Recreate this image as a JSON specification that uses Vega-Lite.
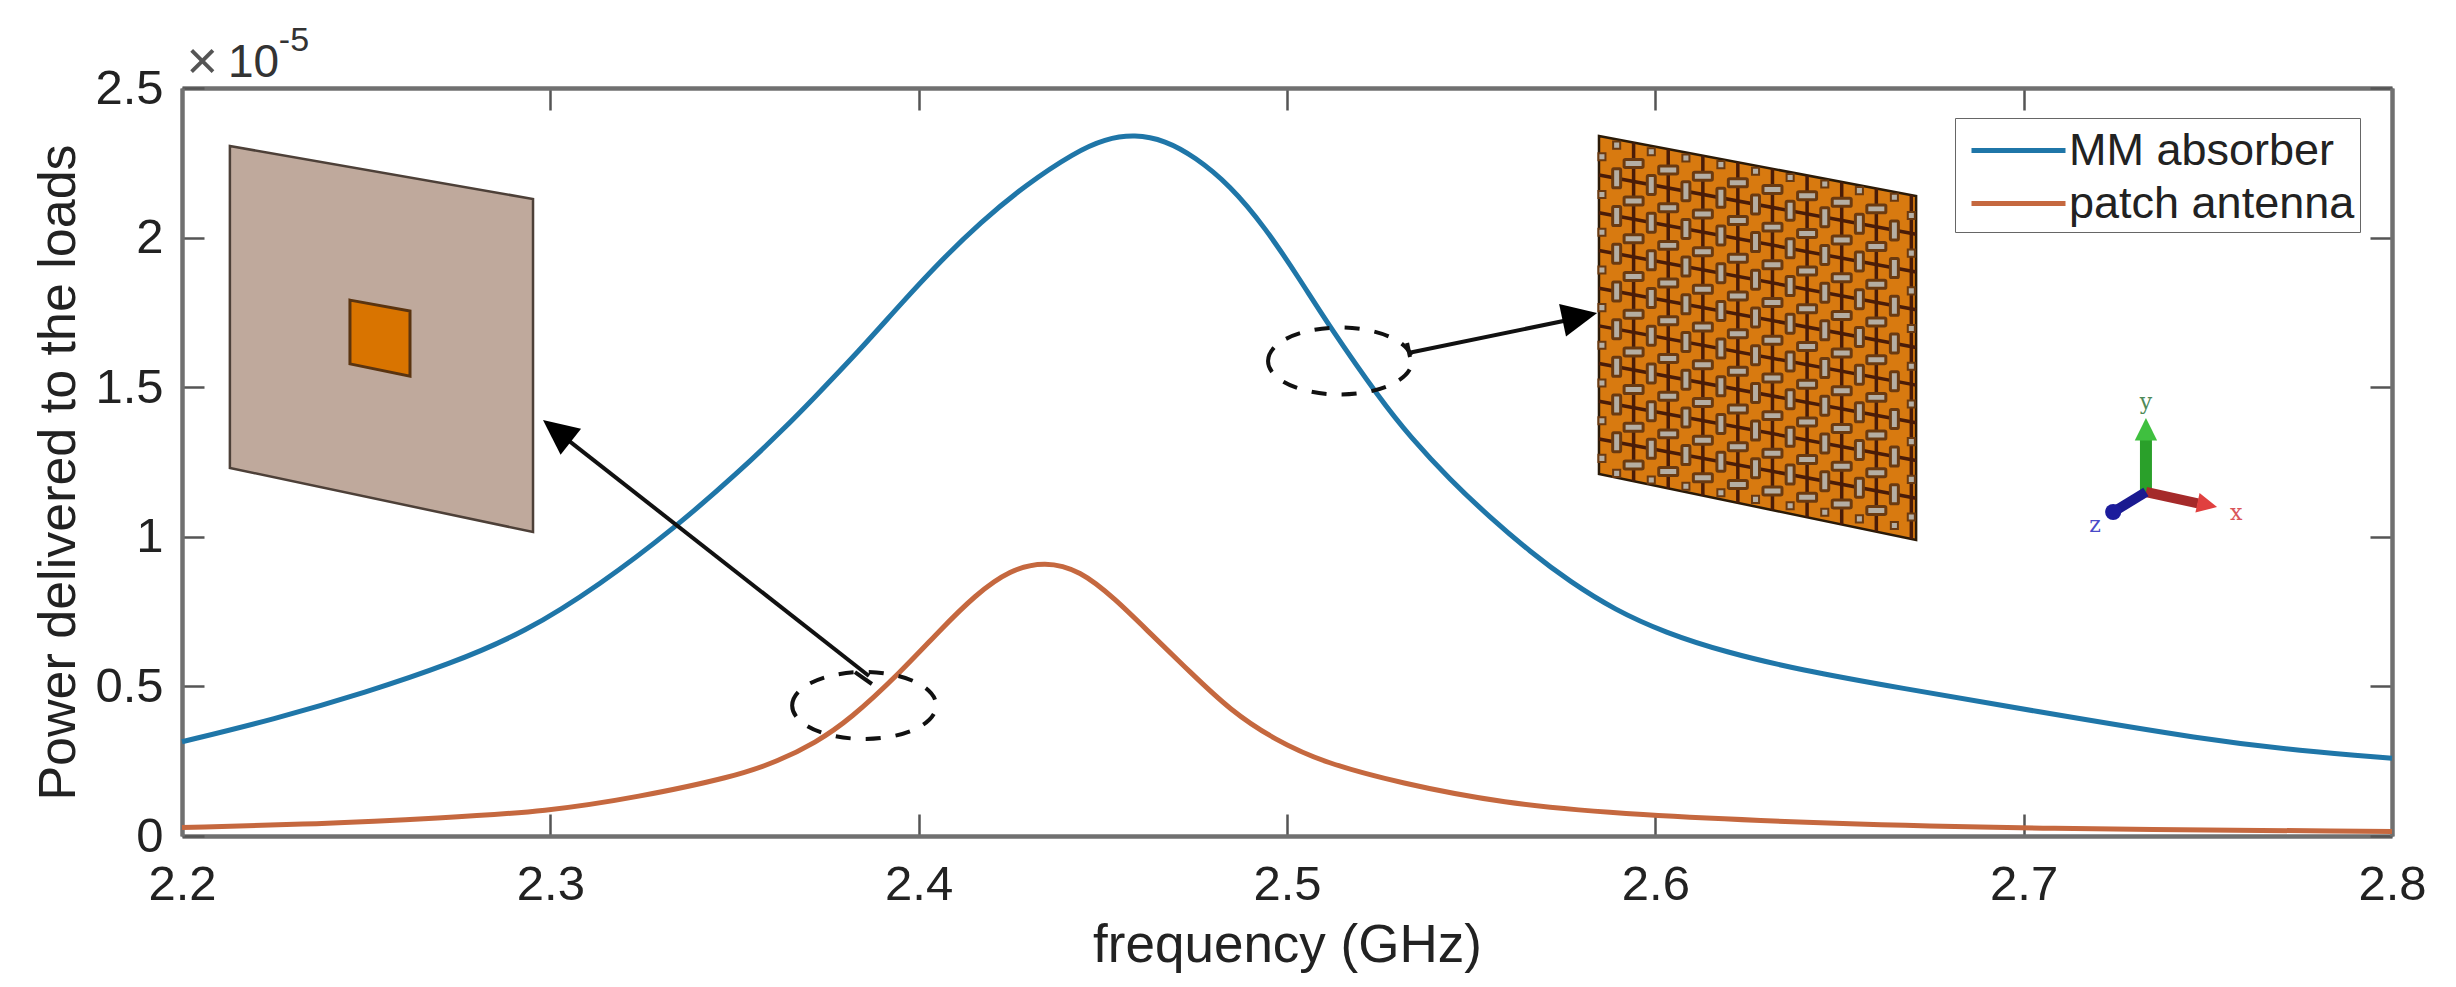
{"$schema":"https://vega.github.io/schema/vega-lite/v6.json","width":2210,"height":748,"autosize":"none","padding":{"left":182,"top":88,"right":64,"bottom":151},"background":"white","config":{"view":{"stroke":null},"font":"Liberation Sans"},
"datasets":{
"curves":[
{"x":2.2,"y":0.315,"series":"MM absorber"},{"x":2.225,"y":0.39,"series":"MM absorber"},{"x":2.25,"y":0.48,"series":"MM absorber"},{"x":2.2728,"y":0.575,"series":"MM absorber"},{"x":2.2931,"y":0.68,"series":"MM absorber"},{"x":2.3135,"y":0.84,"series":"MM absorber"},{"x":2.3338,"y":1.03,"series":"MM absorber"},{"x":2.3515,"y":1.22,"series":"MM absorber"},{"x":2.3637,"y":1.365,"series":"MM absorber"},{"x":2.3705,"y":1.45,"series":"MM absorber"},{"x":2.3841,"y":1.625,"series":"MM absorber"},{"x":2.3949,"y":1.775,"series":"MM absorber"},{"x":2.4058,"y":1.92,"series":"MM absorber"},{"x":2.4167,"y":2.05,"series":"MM absorber"},{"x":2.4289,"y":2.175,"series":"MM absorber"},{"x":2.4424,"y":2.285,"series":"MM absorber"},{"x":2.4506,"y":2.33,"series":"MM absorber"},{"x":2.4587,"y":2.345,"series":"MM absorber"},{"x":2.4669,"y":2.325,"series":"MM absorber"},{"x":2.475,"y":2.27,"series":"MM absorber"},{"x":2.4845,"y":2.175,"series":"MM absorber"},{"x":2.494,"y":2.035,"series":"MM absorber"},{"x":2.5035,"y":1.86,"series":"MM absorber"},{"x":2.5117,"y":1.7,"series":"MM absorber"},{"x":2.5253,"y":1.46,"series":"MM absorber"},{"x":2.5334,"y":1.335,"series":"MM absorber"},{"x":2.5443,"y":1.19,"series":"MM absorber"},{"x":2.5551,"y":1.065,"series":"MM absorber"},{"x":2.566,"y":0.95,"series":"MM absorber"},{"x":2.5768,"y":0.85,"series":"MM absorber"},{"x":2.5891,"y":0.755,"series":"MM absorber"},{"x":2.6026,"y":0.68,"series":"MM absorber"},{"x":2.6189,"y":0.615,"series":"MM absorber"},{"x":2.6393,"y":0.555,"series":"MM absorber"},{"x":2.6664,"y":0.495,"series":"MM absorber"},{"x":2.7017,"y":0.42,"series":"MM absorber"},{"x":2.75,"y":0.32,"series":"MM absorber"},{"x":2.775,"y":0.285,"series":"MM absorber"},{"x":2.8,"y":0.26,"series":"MM absorber"},
{"x":2.2,"y":0.028,"series":"patch antenna"},{"x":2.2372,"y":0.04,"series":"patch antenna"},{"x":2.27,"y":0.06,"series":"patch antenna"},{"x":2.2994,"y":0.082,"series":"patch antenna"},{"x":2.3238,"y":0.13,"series":"patch antenna"},{"x":2.3496,"y":0.197,"series":"patch antenna"},{"x":2.3619,"y":0.25,"series":"patch antenna"},{"x":2.3719,"y":0.311,"series":"patch antenna"},{"x":2.3814,"y":0.39,"series":"patch antenna"},{"x":2.3949,"y":0.545,"series":"patch antenna"},{"x":2.4058,"y":0.688,"series":"patch antenna"},{"x":2.4153,"y":0.805,"series":"patch antenna"},{"x":2.4248,"y":0.89,"series":"patch antenna"},{"x":2.4343,"y":0.918,"series":"patch antenna"},{"x":2.4438,"y":0.888,"series":"patch antenna"},{"x":2.4533,"y":0.793,"series":"patch antenna"},{"x":2.4628,"y":0.678,"series":"patch antenna"},{"x":2.4737,"y":0.548,"series":"patch antenna"},{"x":2.4845,"y":0.421,"series":"patch antenna"},{"x":2.4967,"y":0.321,"series":"patch antenna"},{"x":2.5103,"y":0.244,"series":"patch antenna"},{"x":2.5307,"y":0.177,"series":"patch antenna"},{"x":2.5578,"y":0.11,"series":"patch antenna"},{"x":2.5931,"y":0.07,"series":"patch antenna"},{"x":2.65,"y":0.04,"series":"patch antenna"},{"x":2.7,"y":0.025,"series":"patch antenna"},{"x":2.8,"y":0.015,"series":"patch antenna"}],
"vPills":[
{"x":2.5895,"y":2.198},{"x":2.5895,"y":2.072},{"x":2.5895,"y":1.946},{"x":2.5895,"y":1.82},{"x":2.5895,"y":1.694},{"x":2.5895,"y":1.568},{"x":2.5895,"y":1.442},{"x":2.5895,"y":1.316},
{"x":2.5989,"y":2.176},{"x":2.5989,"y":2.05},{"x":2.5989,"y":1.924},{"x":2.5989,"y":1.798},{"x":2.5989,"y":1.672},{"x":2.5989,"y":1.546},{"x":2.5989,"y":1.42},{"x":2.5989,"y":1.294},
{"x":2.6083,"y":2.155},{"x":2.6083,"y":2.029},{"x":2.6083,"y":1.903},{"x":2.6083,"y":1.777},{"x":2.6083,"y":1.651},{"x":2.6083,"y":1.525},{"x":2.6083,"y":1.399},{"x":2.6083,"y":1.273},
{"x":2.6178,"y":2.133},{"x":2.6178,"y":2.007},{"x":2.6178,"y":1.881},{"x":2.6178,"y":1.755},{"x":2.6178,"y":1.629},{"x":2.6178,"y":1.503},{"x":2.6178,"y":1.377},{"x":2.6178,"y":1.251},
{"x":2.6272,"y":2.111},{"x":2.6272,"y":1.985},{"x":2.6272,"y":1.859},{"x":2.6272,"y":1.733},{"x":2.6272,"y":1.607},{"x":2.6272,"y":1.481},{"x":2.6272,"y":1.355},{"x":2.6272,"y":1.229},
{"x":2.6366,"y":2.09},{"x":2.6366,"y":1.964},{"x":2.6366,"y":1.838},{"x":2.6366,"y":1.712},{"x":2.6366,"y":1.586},{"x":2.6366,"y":1.46},{"x":2.6366,"y":1.334},{"x":2.6366,"y":1.208},
{"x":2.646,"y":2.068},{"x":2.646,"y":1.942},{"x":2.646,"y":1.816},{"x":2.646,"y":1.69},{"x":2.646,"y":1.564},{"x":2.646,"y":1.438},{"x":2.646,"y":1.312},{"x":2.646,"y":1.186},
{"x":2.6554,"y":2.046},{"x":2.6554,"y":1.92},{"x":2.6554,"y":1.794},{"x":2.6554,"y":1.668},{"x":2.6554,"y":1.542},{"x":2.6554,"y":1.416},{"x":2.6554,"y":1.29},{"x":2.6554,"y":1.164},
{"x":2.6649,"y":2.024},{"x":2.6649,"y":1.898},{"x":2.6649,"y":1.772},{"x":2.6649,"y":1.646},{"x":2.6649,"y":1.52},{"x":2.6649,"y":1.394},{"x":2.6649,"y":1.268},{"x":2.6649,"y":1.142}],
"hPills":[
{"x":2.5941,"y":2.248},{"x":2.5941,"y":2.122},{"x":2.5941,"y":1.996},{"x":2.5941,"y":1.87},{"x":2.5941,"y":1.744},{"x":2.5941,"y":1.618},{"x":2.5941,"y":1.492},{"x":2.5941,"y":1.366},{"x":2.5941,"y":1.24},
{"x":2.6035,"y":2.226},{"x":2.6035,"y":2.1},{"x":2.6035,"y":1.974},{"x":2.6035,"y":1.848},{"x":2.6035,"y":1.722},{"x":2.6035,"y":1.596},{"x":2.6035,"y":1.47},{"x":2.6035,"y":1.344},{"x":2.6035,"y":1.218},
{"x":2.6129,"y":2.205},{"x":2.6129,"y":2.079},{"x":2.6129,"y":1.953},{"x":2.6129,"y":1.827},{"x":2.6129,"y":1.701},{"x":2.6129,"y":1.575},{"x":2.6129,"y":1.449},{"x":2.6129,"y":1.323},{"x":2.6129,"y":1.197},
{"x":2.6224,"y":2.183},{"x":2.6224,"y":2.057},{"x":2.6224,"y":1.931},{"x":2.6224,"y":1.805},{"x":2.6224,"y":1.679},{"x":2.6224,"y":1.553},{"x":2.6224,"y":1.427},{"x":2.6224,"y":1.301},{"x":2.6224,"y":1.175},
{"x":2.6318,"y":2.161},{"x":2.6318,"y":2.035},{"x":2.6318,"y":1.909},{"x":2.6318,"y":1.783},{"x":2.6318,"y":1.657},{"x":2.6318,"y":1.531},{"x":2.6318,"y":1.405},{"x":2.6318,"y":1.279},{"x":2.6318,"y":1.153},
{"x":2.6412,"y":2.14},{"x":2.6412,"y":2.014},{"x":2.6412,"y":1.888},{"x":2.6412,"y":1.762},{"x":2.6412,"y":1.636},{"x":2.6412,"y":1.51},{"x":2.6412,"y":1.384},{"x":2.6412,"y":1.258},{"x":2.6412,"y":1.132},
{"x":2.6506,"y":2.118},{"x":2.6506,"y":1.992},{"x":2.6506,"y":1.866},{"x":2.6506,"y":1.74},{"x":2.6506,"y":1.614},{"x":2.6506,"y":1.488},{"x":2.6506,"y":1.362},{"x":2.6506,"y":1.236},{"x":2.6506,"y":1.11},
{"x":2.66,"y":2.096},{"x":2.66,"y":1.97},{"x":2.66,"y":1.844},{"x":2.66,"y":1.718},{"x":2.66,"y":1.592},{"x":2.66,"y":1.466},{"x":2.66,"y":1.34},{"x":2.66,"y":1.214},{"x":2.66,"y":1.088}],
"smallPills":[
{"x":2.5895,"y":2.309},{"x":2.5989,"y":2.287},{"x":2.6083,"y":2.266},{"x":2.6178,"y":2.244},{"x":2.6272,"y":2.222},{"x":2.6366,"y":2.201},{"x":2.646,"y":2.179},{"x":2.6554,"y":2.157},{"x":2.6649,"y":2.135},
{"x":2.5855,"y":2.27},{"x":2.5855,"y":2.144},{"x":2.5855,"y":2.018},{"x":2.5855,"y":1.892},{"x":2.5855,"y":1.766},{"x":2.5855,"y":1.64},{"x":2.5855,"y":1.514},{"x":2.5855,"y":1.388},{"x":2.5855,"y":1.262},
{"x":2.6695,"y":2.074},{"x":2.6695,"y":1.948},{"x":2.6695,"y":1.822},{"x":2.6695,"y":1.696},{"x":2.6695,"y":1.57},{"x":2.6695,"y":1.444},{"x":2.6695,"y":1.318},{"x":2.6695,"y":1.192},{"x":2.6695,"y":1.066},
{"x":2.5895,"y":1.212},{"x":2.5989,"y":1.19},{"x":2.6083,"y":1.169},{"x":2.6178,"y":1.147},{"x":2.6272,"y":1.125},{"x":2.6366,"y":1.104},{"x":2.646,"y":1.082},{"x":2.6554,"y":1.06},{"x":2.6649,"y":1.038}],
"lattice":[
{"x":2.5941,"x2":2.5941,"y":2.3176,"y2":1.1858},{"x":2.6035,"x2":2.6035,"y":2.2957,"y2":1.1617},{"x":2.6129,"x2":2.6129,"y":2.2738,"y2":1.1376},{"x":2.6224,"x2":2.6224,"y":2.2517,"y2":1.1133},{"x":2.6318,"x2":2.6318,"y":2.2298,"y2":1.0892},{"x":2.6412,"x2":2.6412,"y":2.2079,"y2":1.0651},{"x":2.6506,"x2":2.6506,"y":2.186,"y2":1.0411},{"x":2.66,"x2":2.66,"y":2.1641,"y2":1.017},{"x":2.6695,"x2":2.6695,"y":2.142,"y2":0.9926},
{"x":2.5847,"x2":2.6708,"y":2.209,"y2":2.011},{"x":2.5847,"x2":2.6708,"y":2.083,"y2":1.885},{"x":2.5847,"x2":2.6708,"y":1.957,"y2":1.759},{"x":2.5847,"x2":2.6708,"y":1.831,"y2":1.633},{"x":2.5847,"x2":2.6708,"y":1.705,"y2":1.507},{"x":2.5847,"x2":2.6708,"y":1.579,"y2":1.381},{"x":2.5847,"x2":2.6708,"y":1.453,"y2":1.255},{"x":2.5847,"x2":2.6708,"y":1.327,"y2":1.129}]
},
"encoding":{
"x":{"field":"x","type":"quantitative","scale":{"domain":[2.2,2.8],"nice":false,"zero":false},"axis":null},
"y":{"field":"y","type":"quantitative","scale":{"domain":[0,2.5],"nice":false,"zero":false},"axis":null}},
"resolve":{"axis":{"x":"independent","y":"independent"}},
"layer":[
{"data":{"values":[{"x":2.213,"y":2.306,"y2":1.23},{"x":2.2953,"y":2.129,"y2":1.016}]},"mark":{"type":"area","fill":"#bfa99c","stroke":"#4d4038","strokeWidth":2.5},"encoding":{"y2":{"field":"y2"}}},
{"data":{"values":[{"x":2.2456,"y":1.791,"y2":1.578},{"x":2.2619,"y":1.755,"y2":1.537}]},"mark":{"type":"area","fill":"#d97400","stroke":"#5a3410","strokeWidth":3},"encoding":{"y2":{"field":"y2"}}},
{"data":{"values":[{"x":2.5847,"y":2.3395,"y2":1.2099},{"x":2.6708,"y":2.139,"y2":0.9893}]},"mark":{"type":"area","fill":"#d87a10","stroke":"#2a1a08","strokeWidth":2.5},"encoding":{"y2":{"field":"y2"}}},
{"data":{"name":"lattice"},"mark":{"type":"rule","stroke":"#4a1c08","strokeWidth":3.5},"encoding":{"x2":{"field":"x2"},"y2":{"field":"y2"}}},
{"data":{"name":"vPills"},"mark":{"type":"point","filled":true,"size":361,"shape":"M-0.3,-1 L0.3,-1 Q0.42,-1 0.42,-0.85 L0.42,0.85 Q0.42,1 0.3,1 L-0.3,1 Q-0.42,1 -0.42,0.85 L-0.42,-0.85 Q-0.42,-1 -0.3,-1 Z","fill":"#b5aea3","stroke":"#6b3a10","strokeWidth":3,"opacity":1}},
{"data":{"name":"hPills"},"mark":{"type":"point","filled":true,"size":361,"shape":"M-1,-0.3 L-1,0.3 Q-1,0.42 -0.85,0.42 L0.85,0.42 Q1,0.42 1,0.3 L1,-0.3 Q1,-0.42 0.85,-0.42 L-0.85,-0.42 Q-1,-0.42 -1,-0.3 Z","fill":"#b5aea3","stroke":"#6b3a10","strokeWidth":3,"opacity":1}},
{"data":{"name":"smallPills"},"mark":{"type":"point","filled":true,"size":50,"shape":"square","fill":"#b5aea3","stroke":"#6b3a10","strokeWidth":2,"opacity":1}},
{"data":{"name":"curves"},"mark":{"type":"line","interpolate":"basis","strokeWidth":5},"encoding":{"color":{"field":"series","type":"nominal","scale":{"domain":["MM absorber","patch antenna"],"range":["#1f76a8","#c5683f"]},"legend":{"title":null,"orient":"none","legendX":1773,"legendY":30,"symbolType":"M-1,0 L2.76,0","symbolSize":2500,"symbolOffset":9,"symbolStrokeWidth":5,"symbolFillColor":"transparent","labelFontSize":45,"labelFont":"Liberation Sans","labelColor":"#222222","labelOffset":45,"labelLimit":400,"rowPadding":2,"padding":5,"strokeColor":"#666666","fillColor":"white","symbolOpacity":1}}}},
{"data":{"values":[{"x":2.3852,"y":0.4362},{"x":2.5144,"y":1.5875}]},"mark":{"type":"point","filled":false,"size":20736,"shape":"M-1,0 A1,0.465 0 1 1 1,0 A1,0.465 0 1 1 -1,0 Z","stroke":"#111111","strokeWidth":4,"strokeDash":[15,15],"fill":"transparent","opacity":1}},
{"data":{"values":[{"x":2.3865,"x2":2.301,"y":0.5348,"y2":1.36},{"x":2.5329,"x2":2.58,"y":1.6143,"y2":1.734},{"x":2.5326,"x2":2.5334,"y":1.6477,"y2":1.601},{"x":2.3827,"x2":2.3873,"y":0.5481,"y2":0.508}]},"mark":{"type":"rule","stroke":"#111111","strokeWidth":4},"encoding":{"x2":{"field":"x2"},"y2":{"field":"y2"}}},
{"data":{"values":[{"x":2.298,"y":1.3904}]},"mark":{"type":"point","filled":true,"size":5000,"shape":"M0,0 L0.47,1 L-0.47,1 Z","angle":308,"fill":"#000000","opacity":1}},
{"data":{"values":[{"x":2.5842,"y":1.748}]},"mark":{"type":"point","filled":true,"size":5000,"shape":"M0,0 L0.47,1 L-0.47,1 Z","angle":78,"fill":"#000000","opacity":1}},
{"data":{"values":[{"x":2.7332,"x2":2.7332,"y":1.1497,"y2":1.33}]},"mark":{"type":"rule","stroke":"#2aa02a","strokeWidth":12},"encoding":{"x2":{"field":"x2"},"y2":{"field":"y2"}}},
{"data":{"values":[{"x":2.7332,"y":1.397}]},"mark":{"type":"point","filled":true,"size":2000,"shape":"M0,0 L0.5,1 L-0.5,1 Z","fill":"#3fc03f","opacity":1}},
{"data":{"values":[{"x":2.7332,"x2":2.7473,"y":1.1497,"y2":1.112}]},"mark":{"type":"rule","stroke":"#a52a2a","strokeWidth":10},"encoding":{"x2":{"field":"x2"},"y2":{"field":"y2"}}},
{"data":{"values":[{"x":2.7525,"y":1.0996}]},"mark":{"type":"point","filled":true,"size":1600,"shape":"M0,0 L0.5,1 L-0.5,1 Z","angle":102,"fill":"#e0403f","opacity":1}},
{"data":{"values":[{"x":2.7332,"x2":2.7243,"y":1.1497,"y2":1.0829}]},"mark":{"type":"rule","stroke":"#1a1a90","strokeWidth":10},"encoding":{"x2":{"field":"x2"},"y2":{"field":"y2"}}},
{"data":{"values":[{"x":2.7243,"y":1.0829}]},"mark":{"type":"point","filled":true,"size":260,"shape":"circle","fill":"#1c1c9c","opacity":1}},
{"data":{"values":[{"x":2.7332,"y":1.4505,"t":"y"}]},"mark":{"type":"text","font":"DejaVu Serif","fontSize":22,"color":"#4e8a58","align":"center","baseline":"middle"},"encoding":{"text":{"field":"t"}}},
{"data":{"values":[{"x":2.7577,"y":1.0795,"t":"x"}]},"mark":{"type":"text","font":"DejaVu Serif","fontSize":22,"color":"#d9555a","align":"center","baseline":"middle"},"encoding":{"text":{"field":"t"}}},
{"data":{"values":[{"x":2.7194,"y":1.0394,"t":"z"}]},"mark":{"type":"text","font":"DejaVu Serif","fontSize":22,"color":"#4a4ac8","align":"center","baseline":"middle"},"encoding":{"text":{"field":"t"}}},
{"data":{"values":[{"x":2.2012,"y":2.585,"t":"×"}]},"mark":{"type":"text","font":"Liberation Sans","fontSize":54,"color":"#555555","align":"left","baseline":"middle"},"encoding":{"text":{"field":"t"}}},
{"data":{"values":[{"x":2.2125,"y":2.585,"t":"10"}]},"mark":{"type":"text","font":"Liberation Sans","fontSize":46,"color":"#333333","align":"left","baseline":"middle"},"encoding":{"text":{"field":"t"}}},
{"data":{"values":[{"x":2.2263,"y":2.657,"t":"-5"}]},"mark":{"type":"text","font":"Liberation Sans","fontSize":34,"color":"#333333","align":"left","baseline":"middle"},"encoding":{"text":{"field":"t"}}},
{"data":{"values":[{"x":2.2,"y":0}]},"mark":{"type":"point","opacity":0},"encoding":{
"x":{"field":"x","type":"quantitative","axis":{"orient":"bottom","values":[2.2,2.3,2.4,2.5,2.6,2.7,2.8],"format":".1f","grid":false,"title":"frequency (GHz)","titleFont":"Liberation Sans","titleFontSize":53,"titleFontWeight":"normal","titleColor":"#222222","titlePadding":10,"labelFont":"Liberation Sans","labelFontSize":49,"labelColor":"#222222","labelPadding":46,"labelFlush":false,"labelOverlap":false,"labelBound":false,"tickSize":-22,"tickWidth":2.5,"tickColor":"#555555","domainWidth":4.5,"domainColor":"#707070"}},
"y":{"field":"y","type":"quantitative","axis":{"orient":"left","values":[0,0.5,1,1.5,2,2.5],"format":"~g","grid":false,"title":"Power delivered to the loads","titleFont":"Liberation Sans","titleFontSize":52,"titleFontWeight":"normal","titleColor":"#222222","titlePadding":9,"titleY":384,"labelFont":"Liberation Sans","labelFontSize":49,"labelColor":"#222222","labelPadding":41,"labelFlush":false,"labelOverlap":false,"labelBound":false,"tickSize":-22,"tickWidth":2.5,"tickColor":"#555555","domainWidth":4.5,"domainColor":"#707070"}}}},
{"data":{"values":[{"x":2.2,"y":0}]},"mark":{"type":"point","opacity":0},"encoding":{
"x":{"field":"x","type":"quantitative","axis":{"orient":"top","values":[2.2,2.3,2.4,2.5,2.6,2.7,2.8],"labels":false,"title":null,"grid":false,"tickSize":-22,"tickWidth":2.5,"tickColor":"#555555","domainWidth":4.5,"domainColor":"#707070"}},
"y":{"field":"y","type":"quantitative","axis":{"orient":"right","values":[0,0.5,1,1.5,2,2.5],"labels":false,"title":null,"grid":false,"tickSize":-22,"tickWidth":2.5,"tickColor":"#555555","domainWidth":4.5,"domainColor":"#707070"}}}}
]}
